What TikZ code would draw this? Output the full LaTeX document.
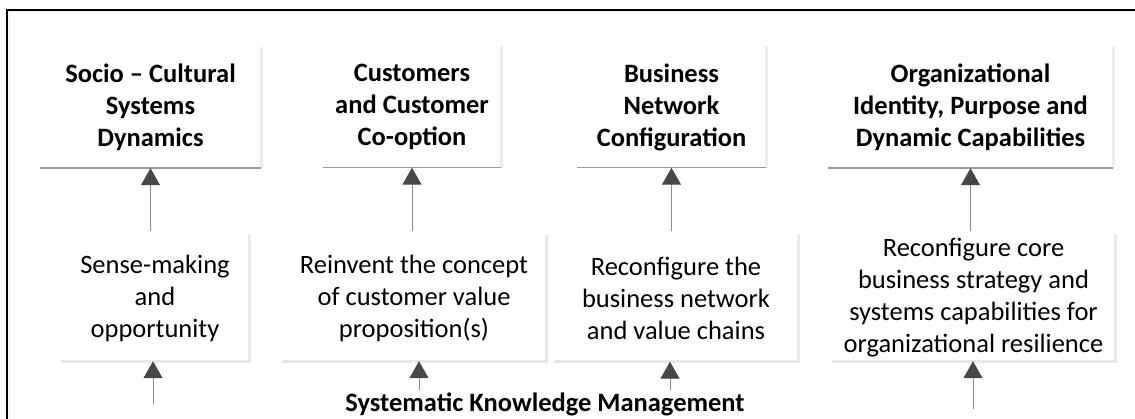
\documentclass[tikz,border=0pt]{standalone}
\usepackage{fontspec}
\setmainfont{Carlito}
\usetikzlibrary{arrows.meta}

\begin{document}
\begin{tikzpicture}[x=1pt,y=-1pt]
        \tikzstyle{every node}=[align=center, inner sep=0pt, font=\fontsize{26.5}{32}\selectfont]
        \tikzstyle{upper}=[minimum height=121, font=\bfseries\fontsize{26.5}{32}\selectfont]
        \tikzstyle{lower}=[minimum height=126]
        \tikzstyle{link}=[draw=black!45, line width=1pt, -{Triangle[width=19pt,length=17pt,color=black!72]}]
        \useasboundingbox (0,0) rectangle (1135,419);
        \draw[line width=1.3pt] (7,419) |- (1135,10);
        \draw[black!8, line width=1pt] (9,419) |- (1135,12);
        % upper row
        \node[upper, minimum width=221] (socio) at (150.5,107.5) {Socio -- Cultural\\Systems\\Dynamics};
        \node[upper, minimum width=178] (customers) at (412,107) {Customers\\and Customer\\Co-option};
        \node[upper, minimum width=189] (network) at (671.5,107) {Business\\Network\\Configuration};
        \node[upper, minimum width=285] (identity) at (970.5,107.5) {Organizational\\Identity, Purpose and\\Dynamic Capabilities};
        % lower row
        \node[lower, minimum width=188] (sense) at (155,298) {Sense-making\\and\\opportunity};
        \node[lower, minimum width=264] (reinvent) at (414,298) {Reinvent the concept\\of customer value\\proposition(s)};
        \node[lower, minimum width=244] (reconf) at (676,298.5) {Reconfigure the\\business network\\and value chains};
        \node[lower, minimum width=283] (core) at (973.5,298) {Reconfigure core\\business strategy and\\systems capabilities for\\organizational resilience};
        \node[anchor=base, font=\bfseries\fontsize{26.5}{32}\selectfont] (skm) at (545,411) {Systematic Knowledge Management};
        % box edges
        \foreach \n in {socio,customers,network,identity} {
            \draw[black!7, line width=3pt] (\n.north east) -- (\n.south east);
            \draw[black!40, line width=1.5pt] (\n.south west) -- (\n.south east);
        }
        \foreach \n in {sense,reinvent,reconf,core}
            \draw[black!9, line width=3pt] (\n.north east) -- (\n.south east) -- (\n.south west);
        % arrows
        \foreach \a/\b in {sense/socio,reinvent/customers,reconf/network,core/identity}
            \draw[link] (\b.south |- \a.north) ++(0,-4) -- (\b.south);
        \coordinate (k1) at (153,404);
        \coordinate (k2) at (419,390);
        \coordinate (k3) at (670,390);
        \coordinate (k4) at (973,409);
        \draw[link] (k1) -- (k1 |- sense.south);
        \draw[link] (k2) -- (k2 |- reinvent.south);
        \draw[link] (k3) -- (k3 |- reconf.south);
        \draw[link] (k4) -- (k4 |- core.south);
    \end{tikzpicture}
\end{document}
